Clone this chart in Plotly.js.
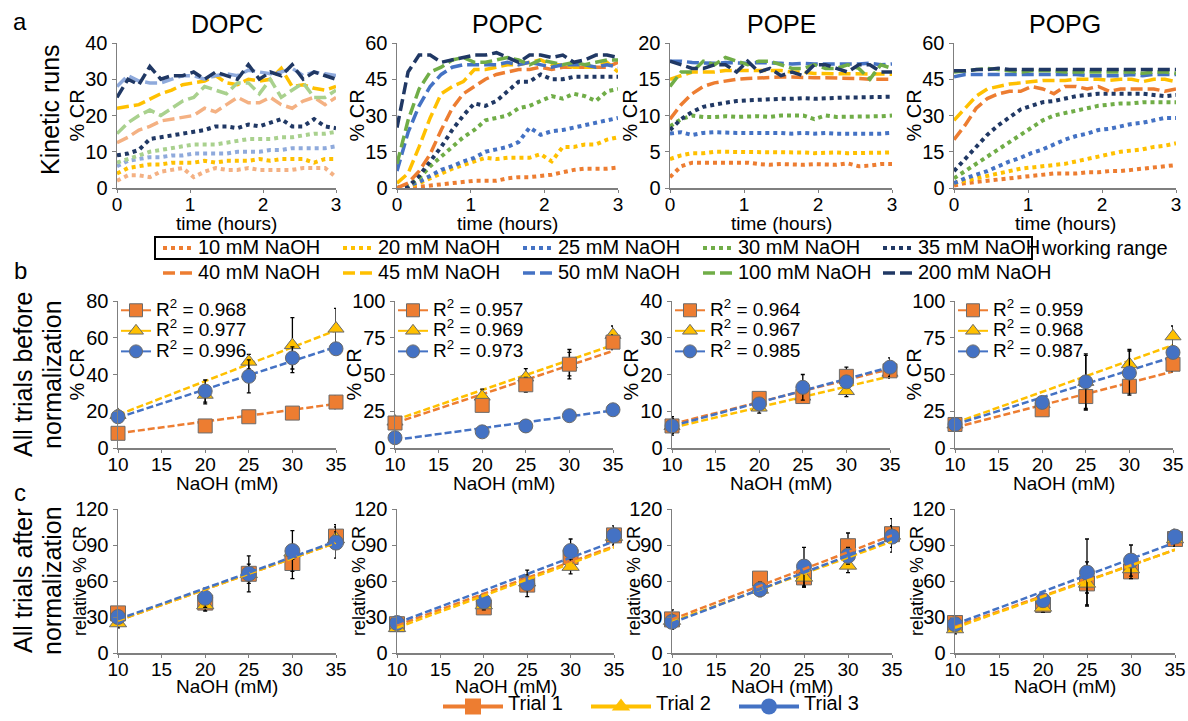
<!DOCTYPE html>
<html><head><meta charset="utf-8">
<script src="https://cdn.plot.ly/plotly-3.0.1.min.js"></script>
<style>html,body{margin:0;padding:0;background:#fff;} #chart{width:1188px;height:721px;}</style>
</head><body><div id="chart"></div>
<script>
const FONT = 'Arial, "Liberation Sans", Helvetica, sans-serif';
const lipids = ['DOPC','POPC','POPE','POPG'];
const naohLabels = ['10 mM NaOH','20 mM NaOH','25 mM NaOH','30 mM NaOH','35 mM NaOH','40 mM NaOH','45 mM NaOH','50 mM NaOH','100 mM NaOH','200 mM NaOH'];
const tHours = [0,0.15,0.3,0.45,0.6,0.75,0.9,1.05,1.2,1.35,1.5,1.65,1.8,1.95,2.1,2.25,2.4,2.55,2.7,2.85,3];
const kineticYMax = [40,60,20,60];
const kineticDtick = [10,15,5,15];

// kinetic runs, one row per NaOH level (10,20,25,30,35,40,45,50,100,200 mM)
const dopcRuns = [
 [2,3.5,3.5,3,4.5,5,5.5,3,4.5,5.5,5,5,5.5,5,5,5,5,5.5,5.5,5.5,3],
 [4,5.5,6,6.5,6.5,7,7,7,7.5,7,7.5,7.5,7.5,8,7.5,8,8,8,7,8,8],
 [6,7.5,8,8.5,8.5,9,9,9.5,9.5,9.5,9.5,10,10,10,10.5,10.5,11,11,11,11,11.5],
 [7,8,9,10,10.5,11,11.5,12,12,12,12.5,13,13.5,13.5,13.5,14,14,14.5,15,15,15.5],
 [9,9.5,10.5,13.5,14,14.5,15,15.5,16,17,17,16.5,17.5,17,18,19,17,17,19,17,16.5],
 [12.5,14,16,17,18.5,19,19.5,20,22,21,23,25,23.5,23.5,25,23,22,24,25,23,25],
 [22,22.5,23,24.5,26,27,28.5,29,29.5,31,29,28.5,30,29.5,30,33,28,28.5,27.5,27,28],
 [28,31,29.5,29,29,30,31,31,30,31,31.5,31,32.5,32,31.5,32,33,31,32,31.5,31],
 [15,18,20,21.5,20,22,24,25,28,27,26,29,29,26,30,25,27,29,25,25,27],
 [25,30,28.5,33.5,30,31,31,32,30,32,31,30,34,30,32,31,34,30,32,31,30]
];
const popcRuns = [
 [0,0,0.5,1,1.5,2,2.5,3,3,3,4,4.5,4.5,5,5.5,6.5,7.5,8,8,8,8.5],
 [0,0.5,2,4,6,8,9.5,11,12.5,12,12.5,12.5,12.5,14,11,17,17,18,18,20,21],
 [0,1,2.5,5,7.5,9,11,12.5,15,16,17,19,25,22,23.5,24,25,26,27,28,29],
 [0,1,4,9,13,17,21,24,28,29,30,33,34,36,38,37,39,38,36,40,41],
 [0,0.5,5,11,17,24,30,35,34,36,40,44,44,47,45,45,46,46,46,46,46],
 [0,2,7,14,24,33,39,42,45,47,48,49,49,50,49,50,50,50,50,50,52],
 [2,6,17,29,39,42,44,49,49,50,51,51,52,53,51,51,50,50,50,52,48],
 [7,23,34,42,47,50,51,51,51,51,52,51,52,51,50,51,51,51,50,51,50],
 [10,28,41,48,50,53,54,52,52,53,54,53,51,53,52,51,52,51,52,53,53],
 [25,48,55,55,52,53,54,55,55,56,54,52,55,55,54,55,52,53,55,55,54]
];
const popeRuns = [
 [1.5,3,3.5,3.5,3.5,3.5,3.5,3.5,3.3,3.2,3.3,3.2,3.2,3.3,3.2,3.2,3.4,3.0,3.1,3.3,3.3],
 [4,4.5,4.8,4.8,5,5,4.9,5,5,5,5,4.9,4.9,4.8,4.9,4.9,4.8,4.8,4.9,4.9,4.9],
 [7.5,7.7,7.3,7.6,7.7,7.6,7.6,7.6,7.6,7.7,7.6,7.5,7.6,7.5,7.6,7.5,7.5,7.5,7.4,7.5,7.6],
 [8.5,9.5,10,9.8,9.8,9.9,9.8,9.9,9.9,9.8,10,10,10,9.5,10,9.8,9.8,9.8,9.8,9.9,10],
 [8,9.5,10.5,11.2,11.5,11.8,12,12.1,12.2,12.2,12.3,12.3,12.4,12.3,12.4,12.4,12.5,12.5,12.5,12.5,12.6],
 [9.5,11.5,13,14,14.5,14.8,15,15.1,15.2,15.3,15.3,15.3,15.2,15.2,15.2,15.2,15.1,15.1,15,15,15],
 [15,15.5,16,16,16,16.2,16.2,16.2,16.2,16.3,16.2,16,16,15.8,15.8,15.8,15.8,15.8,15.8,15.7,15.7],
 [17.5,17.5,17.3,17.2,17.2,17.3,17.2,17.2,17.3,17.3,17.2,17.1,17.2,17.1,17.1,17,17.1,17.1,17.2,17,17.1],
 [14,16,16,17.5,17,18,17.5,17,17.5,17.5,17,16.5,16.5,17,16.5,16.5,17,16.5,15,17,16.5],
 [17.5,17,16.5,16.5,17,17,16,17.5,16,16.5,15.5,16,15.5,17,17,16.5,16,17,17,16,16]
];
const popgRuns = [
 [1,2,2.5,3,3.5,4,4.5,5,5.5,6,6,6,6.5,6.5,7,7,7.5,8,8.5,9,9.5],
 [2,3,4,5,6,7,8,8.5,9,9.5,10,11,12,13,14,15,15.5,16,17,17.5,18.5],
 [2,4,5.5,7,9,11,12.5,14.5,16,18,20,21.5,22.5,24,24.5,25.5,26.5,27,28,29,29],
 [4,7,10,13,16,19,22,25,28,30,31,32,33,34,34.5,35,35,35.5,35.5,35.5,35.5],
 [7,12,17,22,26,29.5,32.5,34,35.5,36,37,38,38.5,39,39,39,39,39,38.5,38,38.5],
 [20,26,33,37,39,40,40,42,41,39,42,42,41,42,40,41,41,41,41,40,41],
 [28,33,38,41,42,43,43.5,44,44.5,44.5,44.5,45,45,45,44.5,45,45,44,45,45,44],
 [46,47,47,47,47,47,47,47,47,47,47,47,46.5,46.5,46.5,46.5,47,46.5,47,47,47],
 [48,48.5,49,49.5,49,48.5,48,48.5,48.5,48.5,48,48,48,48,48,48,48,47.5,48,48,47.5],
 [48.5,48.5,49,49,49.5,49,49,49,49,49,49,49,49,49,49,49,49,49,49,49,49]
];
const kineticRuns = [dopcRuns, popcRuns, popeRuns, popgRuns];

// dose-response (x = NaOH mM), three trials per lipid
const naohX = [10,20,25,30,35];
const fitX = [10,35];
const trialNames = ['Trial 1','Trial 2','Trial 3'];

const beforeDOPC = [[8,12,17,19,25],[18,29,47,56,65],[17,31,39,49,54]];
const beforeDOPCErr = [[1,1.5,1.5,1.5,3.5],[1,5,4,15,11],[1,6,9,6,2]];
const beforeDOPCFit = [[8,24],[18,64],[16.5,55]];
const beforePOPC = [[17,29,43,57,72],[18,35,48,57,77],[7,11,15,22,26]];
const beforePOPCErr = [[2,4,5,10,5],[1,5,6,8,6],[1,1,4,3,1]];
const beforePOPCFit = [[17,66],[19,70],[5.5,25.5]];
const beforePOPE = [[6,13.5,14,19.5,21],[6,11,14,15.5,20.5],[6,12,16.5,18,22]];
const beforePOPEErr = [[2.5,1,1,2.5,1.5],[2,1.5,1,1.5,1.5],[2,1,3.5,1,2.5]];
const beforePOPEFit = [[6.5,21.5],[5.5,19.5],[6,22]];
const beforePOPG = [[16,26,35,42,57],[16,30,45,57,76],[16,31,45,51,65]];
const beforePOPGErr = [[2,2,9,5,5],[1,3,19,10,7],[1,3,18,15,3]];
const beforePOPGFit = [[14,52],[17,70],[16,62]];
const r2DOPC = ['0.968','0.977','0.996'];
const r2POPC = ['0.957','0.969','0.973'];
const r2POPE = ['0.964','0.967','0.985'];
const r2POPG = ['0.959','0.968','0.987'];
const beforeYMax = [80,100,40,100];
const beforeDtick = [20,25,10,25];

const afterDOPC = [[33,42,66,75,97],[25,40,66,84,95],[30,46,66,85,92]];
const afterDOPCErr = [[4,6,6,13,10],[4,5,8,6,6],[2,8,15,17,13]];
const afterDOPCFit = [[27,92],[27,92],[28,93]];
const afterPOPC = [[24,38,57,80,98],[21,40,59,72,97],[25,43,58,85,98]];
const afterPOPCErr = [[3,3,5,8,5],[3,4,6,6,5],[4,5,11,10,8]];
const afterPOPCFit = [[23,89],[21,88],[25,93]];
const afterPOPE = [[28,62,63,89,99],[27,53,63,73,98],[26,53,72,81,97]];
const afterPOPEErr = [[8,5,8,11,7],[5,5,8,6,14],[6,6,16,7,9]];
const afterPOPEFit = [[28,98],[26,93],[25,95]];
const afterPOPG = [[25,40,58,68,95],[20,38,58,70,95],[24,44,67,77,97]];
const afterPOPGErr = [[4,5,8,5,5],[4,4,18,8,6],[3,5,28,13,6]];
const afterPOPGFit = [[22,86],[21,86],[24,92]];

const beforeData = [beforeDOPC, beforePOPC, beforePOPE, beforePOPG];
const beforeErr = [beforeDOPCErr, beforePOPCErr, beforePOPEErr, beforePOPGErr];
const beforeFit = [beforeDOPCFit, beforePOPCFit, beforePOPEFit, beforePOPGFit];
const r2Values = [r2DOPC, r2POPC, r2POPE, r2POPG];
const afterData = [afterDOPC, afterPOPC, afterPOPE, afterPOPG];
const afterErr = [afterDOPCErr, afterPOPCErr, afterPOPEErr, afterPOPGErr];
const afterFit = [afterDOPCFit, afterPOPCFit, afterPOPEFit, afterPOPGFit];

// ---- styles ----
const runColors = ['#ED7D31','#FFC000','#4472C4','#70AD47','#203864','#ED7D31','#FFC000','#4472C4','#70AD47','#203864'];
const dopcColors = ['#F4B183','#FFC000','#8FAADC','#A9D18E','#203864','#F4B183','#FFC000','#8FAADC','#A9D18E','#203864'];
const trialColors = ['#ED7D31','#FFC000','#4472C4'];
const trialSymbols = ['square','triangle-up','circle'];

const W = 1188, H = 721;
const px = v => v / W;
const py = v => 1 - v / H;
const colPx = [
  [[117,336],[397,618],[670,892],[954,1176]],
  [[118,336],[395,613],[672,890],[955,1173]],
  [[118,336],[397,614],[672,892],[955,1175]]
];
const rowPx = [[43,188],[301,448],[509,653]];

const traces = [];
const axId = (r,c) => r*4 + c + 1;
const xs = i => i === 1 ? 'x' : 'x' + i;
const ys = i => i === 1 ? 'y' : 'y' + i;

// Row a: kinetic runs
for (let c = 0; c < 4; c++) {
  const i = axId(0,c);
  for (let s = 0; s < 10; s++) {
    const dotted = s < 5;
    traces.push({
      type:'scatter', mode:'lines', x:tHours, y:kineticRuns[c][s],
      xaxis:xs(i), yaxis:ys(i),
      line:{color: c === 0 ? dopcColors[s] : runColors[s], width: dotted ? 4 : 3.5, dash: dotted ? '4px,4px' : '12px,5px'},
      name:'<span style="font-size:20px">' + naohLabels[s] + '</span>',
      showlegend: c === 1, legend: dotted ? 'legend' : 'legend2',
      hoverinfo:'skip'
    });
  }
}

function markerTrace(i, k, yv, ev, size) {
  return {
    type:'scatter', mode:'markers', x:naohX, y:yv, xaxis:xs(i), yaxis:ys(i),
    marker:{symbol:trialSymbols[k], size:size, color:trialColors[k], line:{color:'#6b6b6b', width:1}},
    error_y:{type:'data', array:ev, visible:true, color:'#000', thickness:1.3, width:2},
    cliponaxis:false, showlegend:false, hoverinfo:'skip'
  };
}
function fitTrace(i, k, fv) {
  return {
    type:'scatter', mode:'lines', x:fitX, y:fv, xaxis:xs(i), yaxis:ys(i),
    line:{color:trialColors[k], width:2.5, dash:'7px,3px'},
    showlegend:false, hoverinfo:'skip'
  };
}

// Row b
for (let c = 0; c < 4; c++) {
  const i = axId(1,c);
  [0,1,2].forEach(k => traces.push(fitTrace(i, k, beforeFit[c][k])));
  [1,0,2].forEach(k => traces.push(markerTrace(i, k, beforeData[c][k], beforeErr[c][k], 14)));
  [0,1,2].forEach(k => traces.push({
    type:'scatter', mode:'lines+markers', x:[null], y:[null], xaxis:xs(i), yaxis:ys(i),
    line:{color:trialColors[k], width:2},
    marker:{symbol:trialSymbols[k], size:13, color:trialColors[k], line:{color:'#6b6b6b', width:1}},
    name:'<span style="font-size:19px">R<sup>2</sup> = ' + r2Values[c][k] + '</span>',
    legend:'legend' + (3 + c), showlegend:true, hoverinfo:'skip'
  }));
}
// Row c
for (let c = 0; c < 4; c++) {
  const i = axId(2,c);
  [0,1,2].forEach(k => traces.push(markerTrace(i, k, afterData[c][k], afterErr[c][k], 15)));
  [0,1,2].forEach(k => traces.push(fitTrace(i, k, afterFit[c][k])));
}
// Bottom legend entries
[0,1,2].forEach(k => traces.push({
  type:'scatter', mode:'lines+markers', x:[null], y:[null], xaxis:xs(9), yaxis:ys(9),
  line:{color:trialColors[k], width:4},
  marker:{symbol:trialSymbols[k], size:22, color:trialColors[k]},
  name:'<span style="font-size:20px">' + trialNames[k] + '</span>', legend:'legend7', showlegend:true, hoverinfo:'skip'
}));

const layout = {
  width:W, height:H, margin:{l:0,r:0,t:0,b:0},
  paper_bgcolor:'#fff', plot_bgcolor:'rgba(0,0,0,0)',
  font:{family:FONT, color:'#000', size:19},
  showlegend:true,
  annotations:[],
  shapes:[{type:'rect', xref:'paper', yref:'paper', x0:px(155), x1:px(1032), y0:py(259), y1:py(237),
    line:{color:'#000', width:2}, fillcolor:'rgba(0,0,0,0)'}]
};

const yMaxRow = r => r === 0 ? kineticYMax : (r === 1 ? beforeYMax : [120,120,120,120]);
const dtRow = r => r === 0 ? kineticDtick : (r === 1 ? beforeDtick : [30,30,30,30]);
function note(x, y, text, size, extra) {
  return Object.assign({xref:'paper', yref:'paper', x:px(x), y:py(y), xanchor:'center', yanchor:'middle',
    text:text, showarrow:false, font:{size:size, family:FONT, color:'#000'}}, extra || {});
}

for (let r = 0; r < 3; r++) {
  for (let c = 0; c < 4; c++) {
    const i = axId(r,c);
    const common = {showline:true, linecolor:'#7f7f7f', linewidth:1.5, ticks:'outside',
      tickcolor:'#7f7f7f', showgrid:false, zeroline:false, fixedrange:true};
    const xa = Object.assign({}, common, {
      domain:[px(colPx[r][c][0]), px(colPx[r][c][1])], anchor:ys(i), ticklen:3, ticklabelstandoff:-4,
      tickfont:{size:19, family:FONT, color:'#000'}
    });
    if (r === 0) { xa.range = [0,3]; xa.tickvals = [0,1,2,3]; }
    else { xa.range = [10,35]; xa.tickvals = [10,15,20,25,30,35]; }
    const ya = Object.assign({}, common, {
      domain:[py(rowPx[r][1]), py(rowPx[r][0])], anchor:xs(i), ticklen:4,
      tickfont:{size:20, family:FONT, color:'#000'},
      range:[0, yMaxRow(r)[c]], tick0:0, dtick:dtRow(r)[c]
    });
    layout[i === 1 ? 'xaxis' : 'xaxis' + i] = xa;
    layout[i === 1 ? 'yaxis' : 'yaxis' + i] = ya;

    const midX = (colPx[r][c][0] + colPx[r][c][1]) / 2;
    const midY = (rowPx[r][0] + rowPx[r][1]) / 2;
    const xTitleY = [224, 483, 686][r];
    layout.annotations.push(note(midX, xTitleY, r === 0 ? 'time (hours)' : 'NaOH (mM)', 19));
    const yOff = [41, 42, 38][r];
    layout.annotations.push(note(colPx[r][c][0] - yOff, midY, r === 2 ? 'relative % CR' : '% CR', r === 2 ? 18 : 20, {textangle:-90}));
    if (r === 0) layout.annotations.push(note(midX, 24, lipids[c], 25));
  }
}

// panel letters and row labels
layout.annotations.push(note(20, 22, 'a', 24));
layout.annotations.push(note(20, 270, 'b', 24));
layout.annotations.push(note(20, 492, 'c', 24));
layout.annotations.push(note(50, 110, 'Kinetic runs', 25, {textangle:-90}));
layout.annotations.push(note(23, 375, 'All trials before', 25, {textangle:-90}));
layout.annotations.push(note(52, 375, 'normalization', 25, {textangle:-90}));
layout.annotations.push(note(23, 581, 'All trials after', 25, {textangle:-90}));
layout.annotations.push(note(52, 581, 'normalization', 25, {textangle:-90}));
layout.annotations.push(note(1039, 248, 'working range', 20, {xanchor:'left'}));

// legends
const legBase = {bgcolor:'rgba(0,0,0,0)', itemclick:false, itemdoubleclick:false, traceorder:'normal', borderwidth:0};
layout.legend = Object.assign({}, legBase, {orientation:'h', x:px(158), xanchor:'left', y:py(232.5), yanchor:'top',
  font:{size:14, family:FONT, color:'#000'}, entrywidth:135, entrywidthmode:'pixels', itemwidth:30});
layout.legend2 = Object.assign({}, legBase, {orientation:'h', x:px(158), xanchor:'left', y:py(257.5), yanchor:'top',
  font:{size:14, family:FONT, color:'#000'}, entrywidth:135, entrywidthmode:'pixels', itemwidth:30});
for (let c = 0; c < 4; c++) {
  layout['legend' + (3 + c)] = Object.assign({}, legBase, {orientation:'v', x:px(colPx[1][c][0] - 2), xanchor:'left',
    y:py(295), yanchor:'top', font:{size:13.5, family:FONT, color:'#000'}, tracegroupgap:0, itemwidth:30});
}
layout.legend7 = Object.assign({}, legBase, {orientation:'h', x:px(438), xanchor:'left', y:0, yanchor:'bottom',
  font:{size:9, family:FONT, color:'#000'}, entrywidth:73, entrywidthmode:'pixels', itemwidth:60});

Plotly.newPlot('chart', traces, layout, {displayModeBar:false, staticPlot:true});
</script></body></html>
